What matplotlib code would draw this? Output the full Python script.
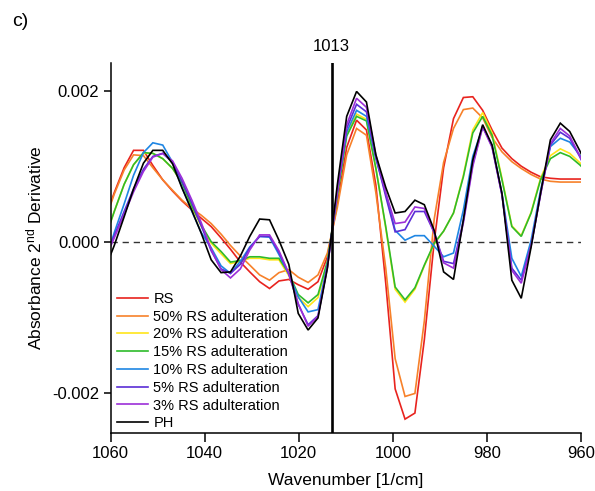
import matplotlib
matplotlib.use("Agg")
import matplotlib.pyplot as plt

plt.rcParams['font.family'] = ['Liberation Sans', 'DejaVu Sans']
plt.rcParams['axes.unicode_minus'] = False
plt.rcParams['mathtext.fontset'] = 'custom'
plt.rcParams['mathtext.rm'] = 'Liberation Sans'
plt.rcParams['mathtext.it'] = 'Liberation Sans:italic'

# Wavenumber sampling [1/cm]
wavenumber = [1061.3, 1059.2, 1057.1, 1055.1, 1053.0, 1051.0, 1048.9, 1046.8, 1044.8, 1042.7,
              1040.7, 1038.6, 1036.5, 1034.5, 1032.4, 1030.4, 1028.3, 1026.2, 1024.2, 1022.1,
              1020.1, 1018.0, 1015.9, 1013.9, 1011.8, 1009.8, 1007.7, 1005.6, 1003.6, 1001.5,
              999.5, 997.4, 995.3, 993.3, 991.2, 989.2, 987.1, 985.0, 983.0, 980.9,
              978.9, 976.8, 974.7, 972.7, 970.6, 968.6, 966.5, 964.4, 962.4, 960.3, 958.3]

# Second-derivative absorbance values, in units of 1e-3
rs = [0.28, 0.65, 0.98, 1.21, 1.21, 1.01, 0.82, 0.67, 0.54, 0.42,
      0.31, 0.20, 0.05, -0.10, -0.27, -0.40, -0.53, -0.62, -0.52, -0.50,
      -0.57, -0.63, -0.53, -0.20, 0.50, 1.25, 1.61, 1.48, 0.75, -0.55,
      -1.95, -2.35, -2.27, -1.30, 0.00, 0.98, 1.63, 1.91, 1.92, 1.74,
      1.48, 1.24, 1.10, 1.00, 0.92, 0.86, 0.84, 0.83, 0.83, 0.83, 0.83]
rs50 = [0.26, 0.63, 0.95, 1.15, 1.14, 0.98, 0.82, 0.68, 0.55, 0.44,
        0.35, 0.24, 0.10, -0.05, -0.19, -0.31, -0.44, -0.51, -0.41, -0.37,
        -0.47, -0.54, -0.44, -0.15, 0.45, 1.15, 1.50, 1.41, 0.65, -0.35,
        -1.55, -2.05, -2.01, -1.05, 0.30, 1.05, 1.50, 1.75, 1.77, 1.64,
        1.38, 1.19, 1.06, 0.97, 0.89, 0.83, 0.80, 0.79, 0.79, 0.79, 0.79]
rs20 = [0.02, 0.40, 0.76, 1.02, 1.17, 1.17, 1.10, 0.97, 0.77, 0.46,
        0.20, -0.02, -0.16, -0.29, -0.26, -0.22, -0.22, -0.24, -0.24, -0.45,
        -0.74, -0.86, -0.74, -0.27, 0.62, 1.42, 1.69, 1.62, 0.98, 0.18,
        -0.63, -0.80, -0.63, -0.32, -0.03, 0.14, 0.38, 0.88, 1.48, 1.71,
        1.44, 0.84, 0.21, 0.08, 0.39, 0.84, 1.14, 1.23, 1.17, 1.05, 0.92]
rs15 = [0.02, 0.40, 0.76, 1.02, 1.18, 1.17, 1.10, 0.97, 0.78, 0.47,
        0.22, 0.00, -0.13, -0.27, -0.25, -0.20, -0.20, -0.22, -0.22, -0.42,
        -0.70, -0.81, -0.70, -0.26, 0.60, 1.40, 1.66, 1.60, 0.97, 0.20,
        -0.60, -0.77, -0.61, -0.31, -0.02, 0.14, 0.38, 0.86, 1.44, 1.66,
        1.41, 0.82, 0.20, 0.07, 0.38, 0.82, 1.10, 1.18, 1.13, 1.02, 0.90]
rs10 = [-0.30, 0.12, 0.50, 0.88, 1.18, 1.31, 1.28, 1.05, 0.72, 0.40,
        0.12, -0.08, -0.32, -0.42, -0.26, -0.07, 0.07, 0.06, -0.17, -0.43,
        -0.73, -0.93, -0.90, -0.30, 0.66, 1.45, 1.74, 1.66, 1.10, 0.64,
        0.15, 0.02, 0.08, 0.08, -0.06, -0.20, -0.15, 0.42, 1.13, 1.52,
        1.28, 0.64, -0.22, -0.46, 0.02, 0.68, 1.26, 1.37, 1.32, 1.15, 0.92]
rs5 = [-0.22, 0.08, 0.40, 0.70, 0.96, 1.13, 1.17, 1.05, 0.80, 0.51,
       0.21, -0.12, -0.36, -0.42, -0.30, -0.08, 0.07, 0.07, -0.14, -0.43,
       -0.83, -1.10, -0.98, -0.33, 0.66, 1.50, 1.82, 1.72, 1.12, 0.60,
       0.13, 0.16, 0.40, 0.40, 0.12, -0.26, -0.29, 0.28, 1.03, 1.53,
       1.26, 0.62, -0.35, -0.51, -0.05, 0.63, 1.28, 1.45, 1.37, 1.13, 0.88]
rs3 = [-0.25, 0.05, 0.36, 0.66, 0.93, 1.12, 1.17, 1.07, 0.84, 0.55,
       0.25, -0.10, -0.37, -0.48, -0.36, -0.11, 0.09, 0.09, -0.12, -0.42,
       -0.82, -1.12, -0.99, -0.34, 0.65, 1.55, 1.90, 1.78, 1.15, 0.65,
       0.24, 0.26, 0.46, 0.44, 0.12, -0.28, -0.35, 0.25, 1.00, 1.52,
       1.25, 0.62, -0.38, -0.55, -0.05, 0.62, 1.30, 1.50, 1.40, 1.14, 0.88]
ph = [-0.38, -0.05, 0.33, 0.70, 1.04, 1.21, 1.21, 1.03, 0.71, 0.41,
      0.11, -0.24, -0.41, -0.40, -0.19, 0.07, 0.30, 0.29, 0.02, -0.30,
      -0.95, -1.17, -1.01, -0.35, 0.75, 1.66, 1.99, 1.85, 1.15, 0.72,
      0.38, 0.40, 0.55, 0.49, 0.15, -0.40, -0.50, 0.29, 1.08, 1.55,
      1.28, 0.64, -0.51, -0.75, -0.07, 0.64, 1.35, 1.57, 1.46, 1.21, 0.95]

series_labels = ["RS", "50% RS adulteration", "20% RS adulteration", "15% RS adulteration",
                 "10% RS adulteration", "5% RS adulteration", "3% RS adulteration", "PH"]
series_values = [rs, rs50, rs20, rs15, rs10, rs5, rs3, ph]
series_colors = ["#E8231E", "#F7812A", "#FFE51A", "#2EBB2A", "#1F86E3", "#5A2ED6", "#9C2FD8", "#000000"]

x_ticks = [1060, 1040, 1020, 1000, 980, 960]
y_ticks = [-0.002, 0.0, 0.002]
y_tick_labels = ["-0.002", "0.000", "0.002"]
marker_wavenumber = 1013

W, H = 595, 491
fig = plt.figure(figsize=(W / 100, H / 100), dpi=100)
left, right, top, bottom = 110.5, 581.0, 63.0, 433.3
ax = fig.add_axes([left / W, (H - bottom) / H, (right - left) / W, (bottom - top) / H])

for vals, lab, col in zip(series_values, series_labels, series_colors):
    ax.plot(wavenumber, [v * 1e-3 for v in vals], color=col, lw=1.2, label=lab,
            solid_joinstyle='miter')

ax.axhline(0, color='#333333', lw=1.0, ls=(0, (4.5, 3.5)), zorder=0.5)
ax.axvline(marker_wavenumber, color='black', lw=1.9, zorder=3)
ax.text(marker_wavenumber, 1.045, str(marker_wavenumber), transform=ax.get_xaxis_transform(),
        ha='center', va='center', fontsize=12)

ax.set_xlim(1060, 960)
ax.set_ylim(-2.538e-3, 2.367e-3)
ax.set_xticks(x_ticks)
ax.set_xticklabels([str(t) for t in x_ticks])
ax.set_yticks(y_ticks)
ax.set_yticklabels(y_tick_labels)

for s in ['top', 'right']:
    ax.spines[s].set_visible(False)
for s in ['left', 'bottom']:
    ax.spines[s].set_linewidth(1.1)
ax.tick_params(axis='x', direction='out', length=6.5, width=1.1, labelsize=12, pad=3)
ax.tick_params(axis='y', direction='out', length=5, width=1.1, labelsize=12, pad=3)

ax.set_xlabel('Wavenumber [1/cm]', fontsize=12.5, labelpad=8)
ax.set_ylabel('Absorbance 2$^{\\mathrm{nd}}$ Derivative', fontsize=12.5, labelpad=6)

ax.legend(loc='upper left', bbox_to_anchor=(0.0138, 0.382), frameon=False, fontsize=10.5,
          handlelength=2.1, handletextpad=0.4, labelspacing=0.26, borderpad=0,
          borderaxespad=0)

fig.text(12 / W, 1 - 21 / H, 'c)', fontsize=14, ha='left', va='center')

fig.savefig('out.png', dpi=100)
